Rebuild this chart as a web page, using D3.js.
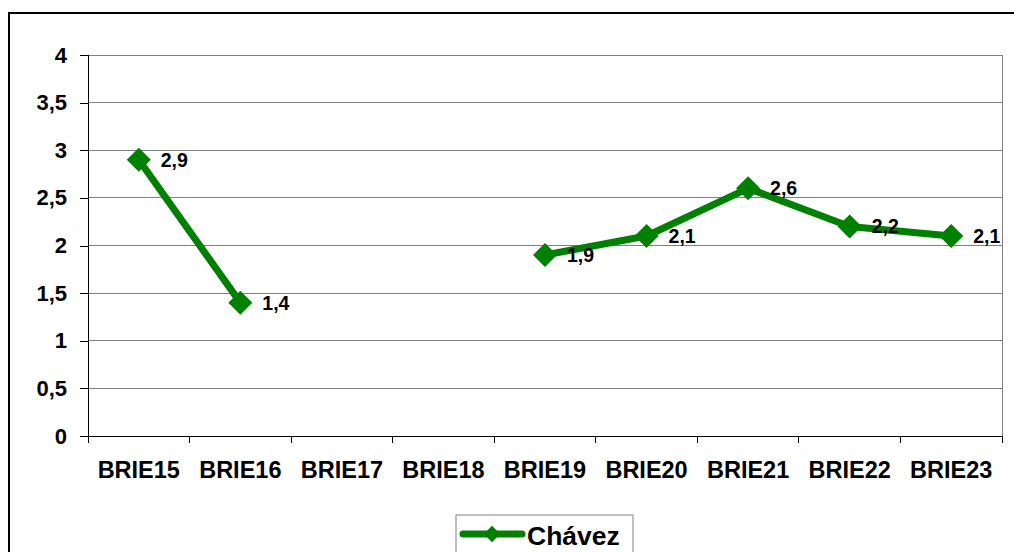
<!DOCTYPE html>
<html><head><meta charset="utf-8">
<script src="https://cdn.jsdelivr.net/npm/d3@7"></script>
<style>body{margin:0;background:#fff}svg{display:block}text{font-family:Arial,"Liberation Sans",sans-serif;font-weight:bold;fill:#000}</style>
</head><body><svg id="c" width="1014" height="552"></svg>
<script>
const categories = ["BRIE15","BRIE16","BRIE17","BRIE18","BRIE19","BRIE20","BRIE21","BRIE22","BRIE23"];
const seriesName = "Chávez";
const values = [2.9, 1.4, null, null, 1.9, 2.1, 2.6, 2.2, 2.1];
const yTicks = [0, 0.5, 1, 1.5, 2, 2.5, 3, 3.5, 4];

const svg = d3.select("#c");
const green = "#008000";
const fmt = v => String(v).replace(".", ",");

// outer chart border
svg.append("rect").attr("x",9).attr("y",13).attr("width",1100).attr("height",700)
  .attr("fill","none").attr("stroke","#000").attr("stroke-width",2);

const x = d3.scaleBand().domain(categories).range([88,1002]).paddingInner(0).paddingOuter(0);
const y = d3.scaleLinear().domain([0,4]).range([436,55]);

const g = svg.append("g");
g.selectAll("line.grid").data(yTicks.filter(t=>t>0)).join("line")
  .attr("x1",88).attr("x2",1002).attr("y1",d=>y(d)).attr("y2",d=>y(d))
  .attr("stroke","#808080").attr("stroke-width",1).attr("shape-rendering","crispEdges");
g.append("line").attr("x1",1002).attr("x2",1002).attr("y1",y(4)).attr("y2",y(0))
  .attr("stroke","#808080").attr("shape-rendering","crispEdges");

// y axis
const yAxis = d3.axisLeft(y).tickValues(yTicks).tickSize(8).tickPadding(13).tickFormat(fmt);
const ya = svg.append("g").attr("transform","translate(88,0)").call(yAxis);
ya.select(".domain").attr("stroke","#000").attr("shape-rendering","crispEdges");
ya.selectAll(".tick line").attr("stroke","#000").attr("shape-rendering","crispEdges");
ya.selectAll("text").attr("font-size",22).attr("font-family","Arial, 'Liberation Sans', sans-serif").attr("font-weight","bold").attr("fill","#000");

// x axis with ticks at category boundaries
const xa = svg.append("g").attr("transform","translate(0,436)");
xa.append("line").attr("x1",88).attr("x2",1002).attr("stroke","#000").attr("shape-rendering","crispEdges");
const bounds = categories.map(c=>x(c)).concat([x(categories[categories.length-1])+x.bandwidth()]);
xa.selectAll("line.t").data(bounds).join("line").attr("class","t")
  .attr("x1",d=>d).attr("x2",d=>d).attr("y1",0).attr("y2",7).attr("stroke","#000").attr("shape-rendering","crispEdges");
xa.selectAll("text").data(categories).join("text")
  .attr("x",d=>x(d)+x.bandwidth()/2).attr("y",42).attr("text-anchor","middle")
  .attr("font-size",23.5).text(d=>d);

// line
const pts = categories.map((c,i)=>({c, v: values[i]}));
const line = d3.line().defined(d=>d.v!==null).x(d=>x(d.c)+x.bandwidth()/2).y(d=>y(d.v));
svg.append("path").datum(pts).attr("d",line).attr("fill","none")
  .attr("stroke",green).attr("stroke-width",7).attr("stroke-linejoin","round");
const valid = pts.filter(d=>d.v!==null);
svg.selectAll("path.m").data(valid).join("path").attr("class","m")
  .attr("d", d3.symbol().type(d3.symbolSquare).size(17*17))
  .attr("transform",d=>`translate(${x(d.c)+x.bandwidth()/2},${y(d.v)}) rotate(45)`)
  .attr("fill",green);
svg.selectAll("text.lbl").data(valid).join("text").attr("class","lbl")
  .attr("x",d=>x(d.c)+x.bandwidth()/2+22).attr("y",d=>y(d.v)+7)
  .attr("font-size",19.5).text(d=>fmt(d.v));

// legend
const lg = svg.append("g");
lg.append("rect").attr("x",456).attr("y",515).attr("width",177).attr("height",60)
  .attr("fill","#fff").attr("stroke","#808080").attr("stroke-width",1);
lg.append("line").attr("x1",463).attr("x2",522).attr("y1",534).attr("y2",534)
  .attr("stroke",green).attr("stroke-width",7).attr("stroke-linecap","round");
lg.append("path").attr("d", d3.symbol().type(d3.symbolSquare).size(11.5*11.5))
  .attr("transform","translate(492,534) rotate(45)").attr("fill",green);
lg.append("text").attr("x",527).attr("y",545).attr("font-size",26.5).text(seriesName);
</script></body></html>
